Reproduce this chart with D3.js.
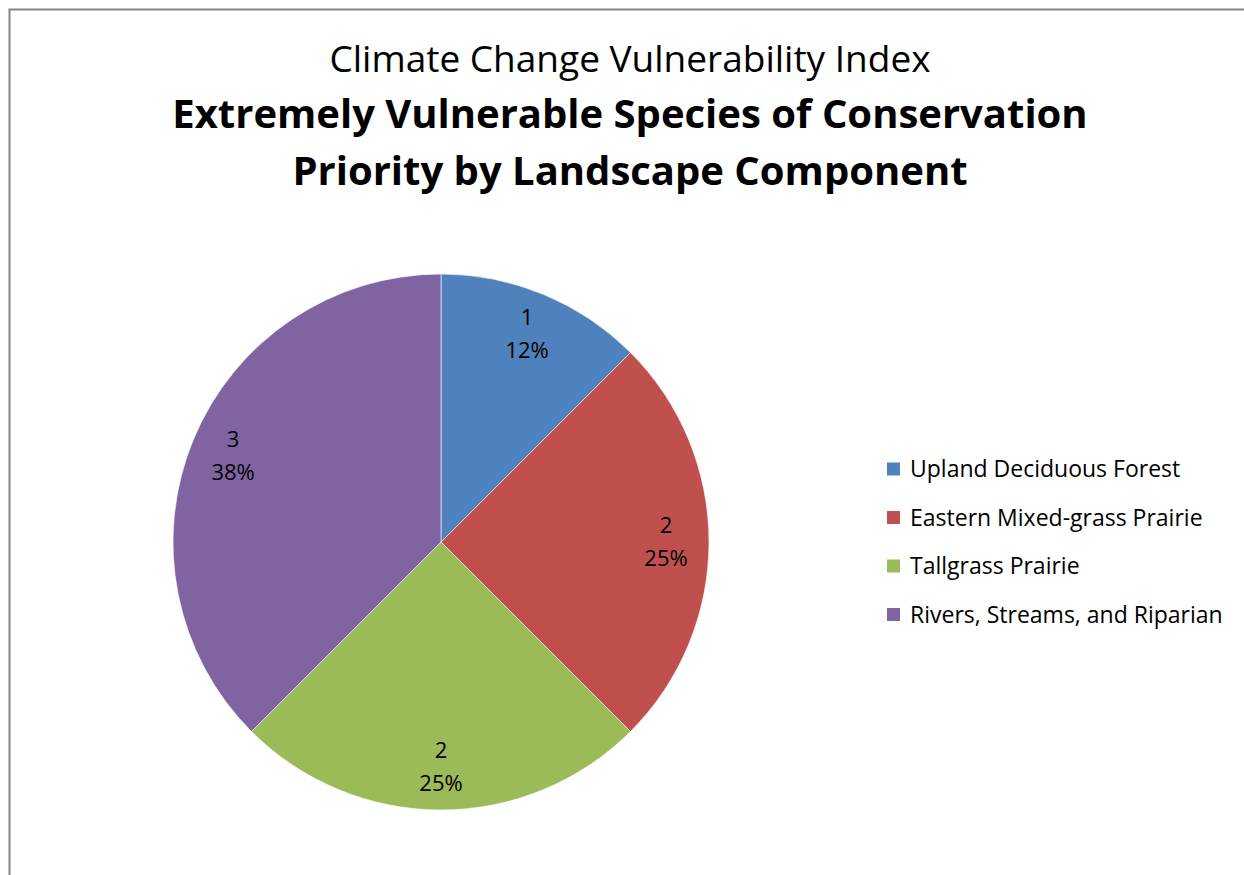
<!DOCTYPE html>
<html>
<head>
<meta charset="utf-8">
<script src="https://cdn.jsdelivr.net/npm/d3@7"></script>
<style>
  html, body { margin: 0; padding: 0; background: #fff; }
  svg { display: block; }
  text { font-family: "Open Sans", "Noto Sans", sans-serif; fill: #000; }
</style>
</head>
<body>
<svg id="chart" width="1244" height="875"></svg>
<script>
// Landscape components and counts of extremely vulnerable species
const categories = [
  "Upland Deciduous Forest",
  "Eastern Mixed-grass Prairie",
  "Tallgrass Prairie",
  "Rivers, Streams, and Riparian"
];
const speciesCounts = [1, 2, 2, 3];
const percentLabels = ["12%", "25%", "25%", "38%"];
const sliceColors = ["#4F81BD", "#C0504D", "#9BBB59", "#8064A2"];

const titleLines = [
  { text: "Climate Change Vulnerability Index", bold: false },
  { text: "Extremely Vulnerable Species of Conservation", bold: true },
  { text: "Priority by Landscape Component", bold: true }
];

const svg = d3.select("#chart");
const W = 1244, H = 875;

// chart frame
svg.append("rect")
  .attr("x", 9.5).attr("y", 9.5)
  .attr("width", W + 20).attr("height", H + 20)
  .attr("fill", "#fff")
  .attr("stroke", "#868686")
  .attr("stroke-width", 2);

// titles
const titleY = [72, 128, 185];
const titleSize = [37, 40, 40];
svg.append("g").selectAll("text")
  .data(titleLines)
  .join("text")
  .attr("x", 630)
  .attr("y", (d, i) => titleY[i])
  .attr("text-anchor", "middle")
  .attr("font-size", (d, i) => titleSize[i])
  .attr("font-weight", d => d.bold ? 700 : 400)
  .text(d => d.text);

// pie
const cx = 441, cy = 542, radius = 268;
const pie = d3.pie().sort(null).value(d => d);
const arcs = pie(speciesCounts);
const arc = d3.arc().innerRadius(0).outerRadius(radius);
const labelArc = d3.arc().innerRadius(225).outerRadius(225);

const g = svg.append("g").attr("transform", `translate(${cx},${cy})`);
g.selectAll("path")
  .data(arcs)
  .join("path")
  .attr("d", arc)
  .attr("fill", (d, i) => sliceColors[i])
  .attr("stroke", "#fff")
  .attr("stroke-width", 1)
  .attr("stroke-opacity", 0.6);

const labels = g.selectAll("g.lbl")
  .data(arcs)
  .join("g")
  .attr("class", "lbl")
  .attr("transform", d => `translate(${labelArc.centroid(d)})`);
labels.append("text")
  .attr("text-anchor", "middle")
  .attr("y", -9)
  .attr("font-size", 22)
  .text(d => d.data);
labels.append("text")
  .attr("text-anchor", "middle")
  .attr("y", 24)
  .attr("font-size", 22)
  .text((d, i) => percentLabels[i]);

// legend
const legend = svg.append("g").attr("transform", "translate(887,469)");
const rowStep = 48.5;
const rows = legend.selectAll("g")
  .data(categories)
  .join("g")
  .attr("transform", (d, i) => `translate(0,${i * rowStep})`);
rows.append("rect")
  .attr("x", 0).attr("y", -6.5)
  .attr("width", 13).attr("height", 13)
  .attr("fill", (d, i) => sliceColors[i]);
rows.append("text")
  .attr("x", 23).attr("y", 8)
  .attr("font-size", 23)
  .text(d => d);
</script>
</body>
</html>
